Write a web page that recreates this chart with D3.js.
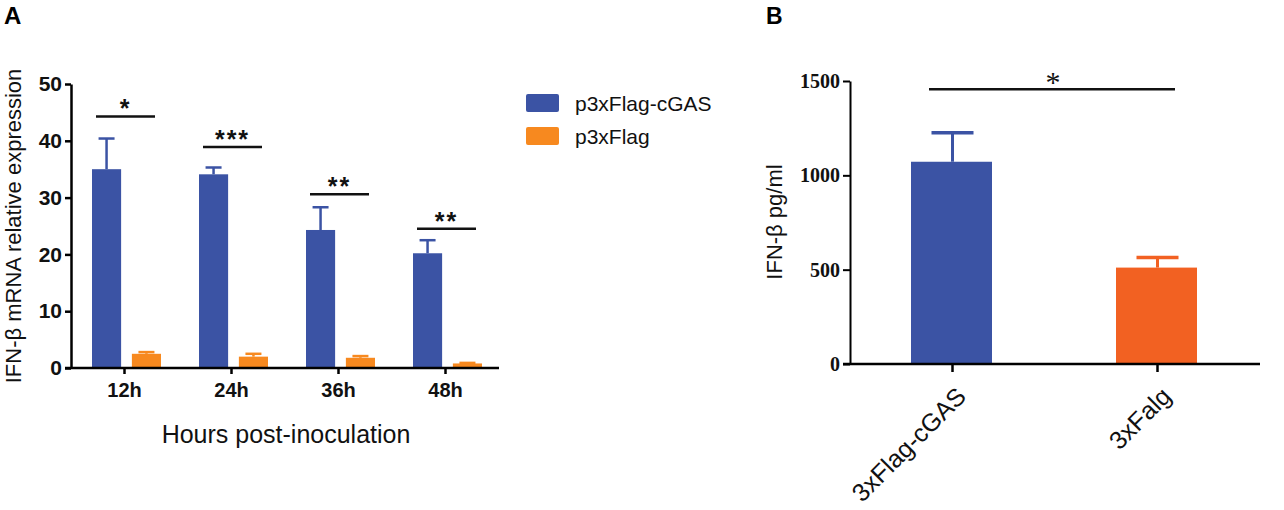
<!DOCTYPE html>
<html>
<head>
<meta charset="utf-8">
<script src="https://cdn.jsdelivr.net/npm/d3@7"></script>
<style>
  body { margin: 0; background: #fff; }
  svg { display: block; }
</style>
</head>
<body>
<svg id="chart" width="1284" height="510"></svg>
<script>
// panel A data - IFN-b mRNA over time
const hours = ['12h', '24h', '36h', '48h'];
const seriesNames = ['p3xFlag-cGAS', 'p3xFlag'];
const cgasMean = [35.0, 34.1, 24.3, 20.2];
const cgasErr = [5.4, 1.2, 4.0, 2.3];
const flagMean = [2.5, 2.0, 1.8, 0.8];
const flagErr = [0.3, 0.5, 0.3, 0.1];
const sigA = ['*', '***', '**', '**'];
const sigLevelA = [44.3, 38.9, 30.6, 24.5];
const ticksA = [0, 10, 20, 30, 40, 50];

// panel B data - IFN-b protein
const groupsB = ['3xFlag-cGAS', '3xFalg'];
const meanB = [1072, 511];
const errB = [154, 54];
const sigB = '*';
const sigLevelB = 1456;
const ticksB = [0, 500, 1000, 1500];

const blue = '#3b53a4';
const orangeA = '#f7891f';
const orangeB = '#f26122';
const sans = 'Liberation Sans, Arial, sans-serif';
const serif = 'Liberation Serif, Times New Roman, serif';

const svg = d3.select('#chart');

// ---------- panel A ----------
let xA = d3.scaleBand().domain(hours).range([71, 499]).padding(0);
let xInner = d3.scaleBand().domain(seriesNames).range([21, 90]).paddingInner(0.27);
let yA = d3.scaleLinear().domain([0, 50]).range([368, 84]);

const colA = d3.scaleOrdinal().domain(seriesNames).range([blue, orangeA]);

const rowsA = hours.map((h, i) => ({
  hour: h,
  vals: [
    { s: seriesNames[0], v: cgasMean[i], e: cgasErr[i] },
    { s: seriesNames[1], v: flagMean[i], e: flagErr[i] }
  ]
}));

let gA = svg.append('g');

let groups = gA.selectAll('g.grp')
  .data(rowsA)
  .enter()
  .append('g')
  .attr('class', 'grp')
  .attr('transform', d => 'translate(' + xA(d.hour) + ',0)');

// error bars first so the bar covers the lower part
groups.selectAll('g.err')
  .data(d => d.vals)
  .enter()
  .append('g')
  .attr('class', 'err')
  .each(function(d) {
    let cx = xInner(d.s) + xInner.bandwidth() / 2;
    let g = d3.select(this);
    g.append('line')
      .attr('x1', cx).attr('x2', cx)
      .attr('y1', yA(d.v)).attr('y2', yA(d.v + d.e))
      .attr('stroke', colA(d.s)).attr('stroke-width', 2.5);
    g.append('line')
      .attr('x1', cx - 8).attr('x2', cx + 8)
      .attr('y1', yA(d.v + d.e)).attr('y2', yA(d.v + d.e))
      .attr('stroke', colA(d.s)).attr('stroke-width', 2.5);
  });

groups.selectAll('rect')
  .data(d => d.vals)
  .enter()
  .append('rect')
  .attr('x', d => xInner(d.s))
  .attr('y', d => yA(d.v))
  .attr('width', xInner.bandwidth())
  .attr('height', d => yA(0) - yA(d.v))
  .attr('fill', d => colA(d.s));

// significance lines
hours.forEach((h, i) => {
  let x0 = xA(h) + 25, x1 = xA(h) + 84;
  gA.append('line')
    .attr('x1', x0).attr('x2', x1)
    .attr('y1', yA(sigLevelA[i])).attr('y2', yA(sigLevelA[i]))
    .attr('stroke', '#111').attr('stroke-width', 2.5);
  gA.append('text')
    .attr('x', (x0 + x1) / 2)
    .attr('y', yA(sigLevelA[i]) + 1)
    .attr('text-anchor', 'middle')
    .attr('font-family', sans)
    .attr('font-size', '25px')
    .attr('font-weight', 700)
    .attr('letter-spacing', '2px')
    .attr('fill', '#111')
    .text(sigA[i]);
});

// axes
gA.append('g')
  .attr('transform', 'translate(71,0)')
  .call(d3.axisLeft(yA).tickValues(ticksA).tickSize(6).tickSizeOuter(0))
  .call(g => g.select('.domain').attr('stroke-width', 2.5))
  .call(g => g.selectAll('.tick line').attr('stroke-width', 2.5))
  .call(g => g.selectAll('text')
    .attr('font-family', sans)
    .attr('font-size', '21px').attr('font-weight', 700).attr('fill', '#111'));

gA.append('g')
  .attr('transform', 'translate(0,' + yA(0) + ')')
  .call(d3.axisBottom(xA).tickSize(6).tickSizeOuter(0))
  .call(g => g.select('.domain').attr('stroke-width', 2.5).attr('d', 'M65,0H499'))
  .call(g => g.selectAll('.tick line').attr('stroke-width', 2.5))
  .call(g => g.selectAll('text')
    .attr('font-family', sans)
    .attr('font-size', '20px').attr('font-weight', 700).attr('fill', '#111')
    .attr('y', 29).attr('dy', 0));

// axis titles
gA.append('text')
  .attr('transform', 'translate(20.5,226) rotate(-90)')
  .attr('text-anchor', 'middle')
  .attr('font-family', sans)
  .attr('font-size', '22px')
  .attr('fill', '#111')
  .text('IFN-β mRNA relative expression');

gA.append('text')
  .attr('x', 286).attr('y', 443)
  .attr('text-anchor', 'middle')
  .attr('font-family', sans)
  .attr('font-size', '25px')
  .attr('fill', '#111')
  .text('Hours post-inoculation');

// legend
let legend = gA.append('g')
  .selectAll('g')
  .data(seriesNames)
  .enter()
  .append('g')
  .attr('transform', (d, i) => 'translate(526,' + (94 + i * 33) + ')');
legend.append('rect')
  .attr('width', 33).attr('height', 18).attr('rx', 2)
  .attr('fill', d => colA(d));
legend.append('text')
  .attr('x', 49).attr('y', 16.5)
  .attr('font-family', sans)
  .attr('font-size', '21px')
  .attr('fill', '#111')
  .text(d => d);

svg.append('text')
  .attr('x', 4).attr('y', 24)
  .attr('font-family', sans)
  .attr('font-size', '24px').attr('font-weight', 700)
  .text('A');

// ---------- panel B ----------
let xB = d3.scaleBand().domain(groupsB).range([850, 1260]).padding(0);
let yB = d3.scaleLinear().domain([0, 1500]).range([364, 81]);
const colB = d3.scaleOrdinal().domain(groupsB).range([blue, orangeB]);
const barW = 81;

let gB = svg.append('g');

groupsB.forEach((g, i) => {
  let cx = xB(g) + xB.bandwidth() / 2;
  gB.append('line')
    .attr('x1', cx).attr('x2', cx)
    .attr('y1', yB(meanB[i])).attr('y2', yB(meanB[i] + errB[i]))
    .attr('stroke', colB(g)).attr('stroke-width', 3);
  gB.append('line')
    .attr('x1', cx - 21).attr('x2', cx + 21)
    .attr('y1', yB(meanB[i] + errB[i])).attr('y2', yB(meanB[i] + errB[i]))
    .attr('stroke', colB(g)).attr('stroke-width', 3.5);
});

gB.selectAll('rect')
  .data(groupsB)
  .enter()
  .append('rect')
  .attr('x', d => xB(d) + xB.bandwidth() / 2 - barW / 2 - 1)
  .attr('y', (d, i) => yB(meanB[i]))
  .attr('width', barW)
  .attr('height', (d, i) => yB(0) - yB(meanB[i]))
  .attr('fill', d => colB(d));

// significance
gB.append('line')
  .attr('x1', 929).attr('x2', 1175)
  .attr('y1', yB(sigLevelB)).attr('y2', yB(sigLevelB))
  .attr('stroke', '#111').attr('stroke-width', 2.5);
gB.append('text')
  .attr('x', 1053).attr('y', yB(sigLevelB) + 3)
  .attr('text-anchor', 'middle')
  .attr('font-family', serif)
  .attr('font-size', '30px')
  .attr('fill', '#111')
  .text(sigB);

gB.append('g')
  .attr('transform', 'translate(850,0)')
  .call(d3.axisLeft(yB).tickValues(ticksB).tickFormat(d3.format('d')).tickSize(7).tickSizeOuter(0))
  .call(g => g.select('.domain').attr('stroke-width', 2))
  .call(g => g.selectAll('.tick line').attr('stroke-width', 2))
  .call(g => g.selectAll('text')
    .attr('font-family', serif)
    .attr('font-size', '20px').attr('font-weight', 700).attr('fill', '#111'));

gB.append('g')
  .attr('transform', 'translate(0,' + yB(0) + ')')
  .call(d3.axisBottom(xB).tickSize(8).tickSizeOuter(0))
  .call(g => g.select('.domain').attr('stroke-width', 2.5).attr('d', 'M843,0H1260'))
  .call(g => g.selectAll('.tick line').attr('stroke-width', 2.5))
  .call(g => g.selectAll('text')
    .attr('font-family', sans)
    .attr('font-size', '25px').attr('fill', '#111')
    .attr('text-anchor', 'end')
    .attr('x', 0).attr('y', 0).attr('dy', 0)
    .attr('transform', 'translate(15,34) rotate(-45)'));

gB.append('text')
  .attr('transform', 'translate(782,222) rotate(-90)')
  .attr('text-anchor', 'middle')
  .attr('font-family', sans)
  .attr('font-size', '22px')
  .attr('fill', '#111')
  .text('IFN-β pg/ml');

svg.append('text')
  .attr('x', 766).attr('y', 24)
  .attr('font-family', sans)
  .attr('font-size', '23px').attr('font-weight', 700)
  .text('B');
</script>
</body>
</html>
